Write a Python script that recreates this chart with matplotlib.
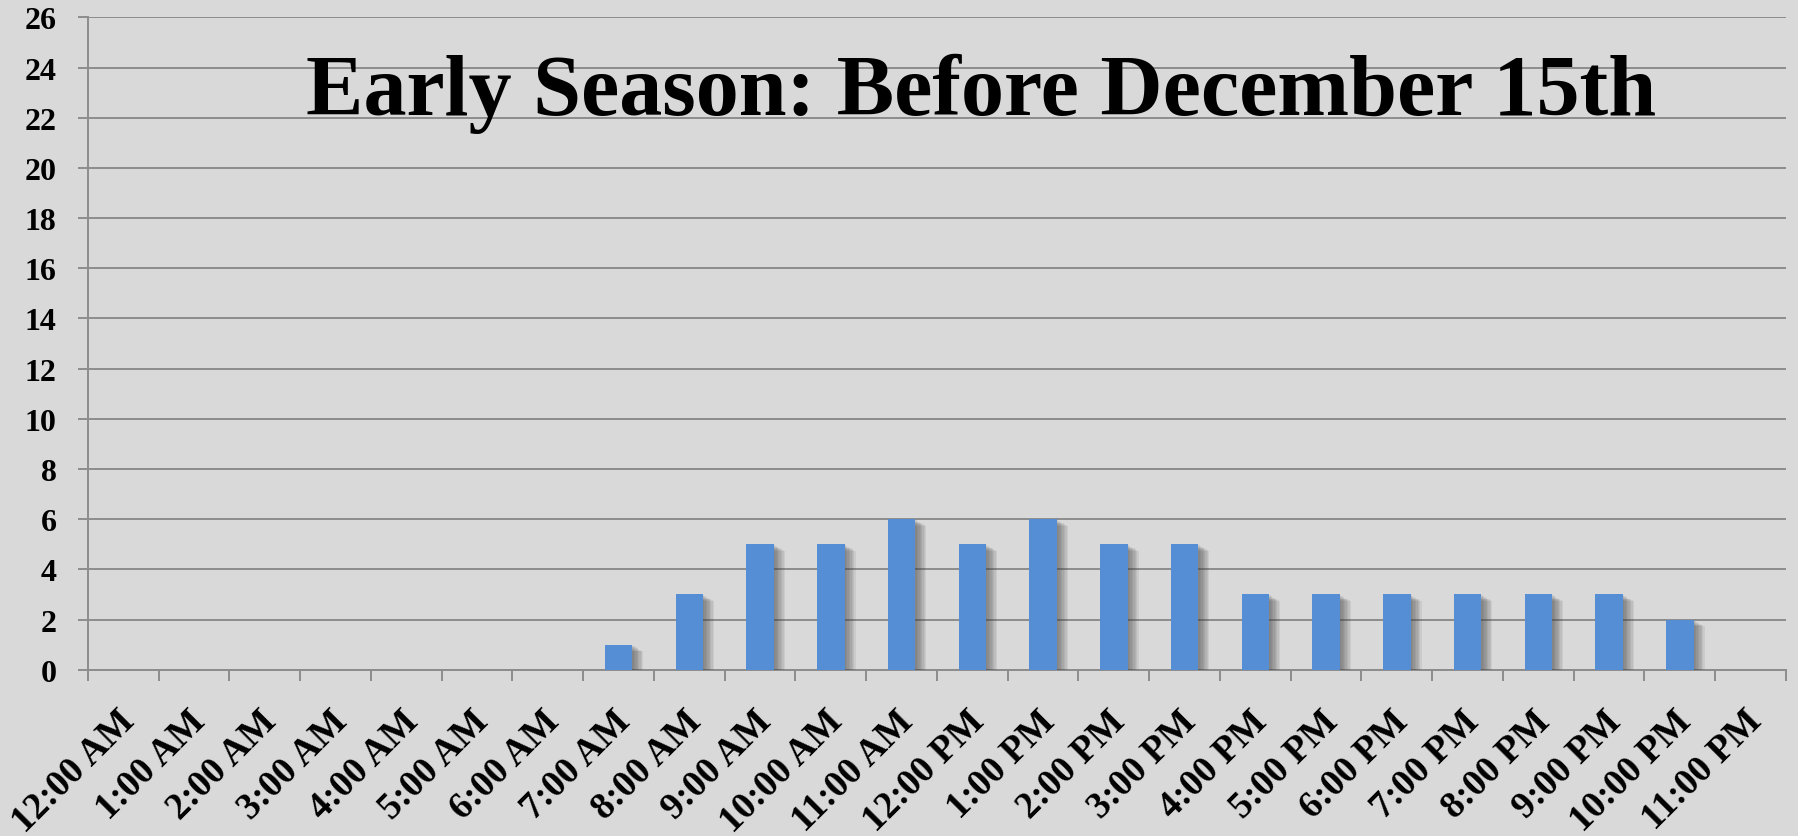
import matplotlib
matplotlib.use("Agg")
import matplotlib.pyplot as plt
import matplotlib.patheffects as pe
import matplotlib.transforms as mtrans
import numpy as np

categories = ["12:00 AM", "1:00 AM", "2:00 AM", "3:00 AM", "4:00 AM", "5:00 AM",
              "6:00 AM", "7:00 AM", "8:00 AM", "9:00 AM", "10:00 AM", "11:00 AM",
              "12:00 PM", "1:00 PM", "2:00 PM", "3:00 PM", "4:00 PM", "5:00 PM",
              "6:00 PM", "7:00 PM", "8:00 PM", "9:00 PM", "10:00 PM", "11:00 PM"]
counts = [0, 0, 0, 0, 0, 0, 0, 1, 3, 5, 5, 6, 5, 6, 5, 5, 3, 3, 3, 3, 3, 3, 2, 0]
yticks = list(range(0, 27, 2))
title = "Early Season: Before December 15th"

bg = "#D9D9D9"
grid = "#8C8C8C"
bar_color = "#558ED5"
font = "Liberation Serif"

fig = plt.figure(figsize=(17.98, 8.37), dpi=100, facecolor=bg)
ax = fig.add_axes([0.0489, 0.1986, 0.9444, 0.7795], facecolor=bg)

x = np.arange(len(categories))
shadow = [pe.SimplePatchShadow(offset=(d, -d * 0.6), shadow_rgbFace="#404040", alpha=0.09)
          for d in (1, 2, 3, 4, 5, 6, 7, 8)]
ax.bar(x, counts, width=0.39, color=bar_color, zorder=3,
       path_effects=shadow + [pe.Normal()])

ax.set_xlim(-0.5, len(categories) - 0.5)
ax.set_ylim(0, 26)
ax.set_yticks(yticks)
ax.set_yticklabels([str(v) for v in yticks], fontfamily=font, fontweight="bold", fontsize=23)
ax.yaxis.grid(True, color=grid, linewidth=1.4, zorder=0)
ax.set_axisbelow(True)
ax.tick_params(axis="y", length=7.5, width=1.4, color=grid, pad=15)

ax.set_xticks(x)
ax.set_xticklabels(categories, fontfamily=font, fontweight="bold", fontsize=27,
                   rotation=45, ha="right", va="top", rotation_mode="anchor")
ax.tick_params(axis="x", which="major", length=0, pad=24)
ax.set_xticks(np.arange(-0.5, len(categories)), minor=True)
ax.tick_params(axis="x", which="minor", length=8, width=1.4, color=grid)
offset = mtrans.ScaledTranslation(-6 / 100, 0, fig.dpi_scale_trans)
for lab in ax.get_xticklabels():
    lab.set_transform(lab.get_transform() + offset)

for s in ("top", "right"):
    ax.spines[s].set_visible(False)
for s in ("left", "bottom"):
    ax.spines[s].set_color(grid)
    ax.spines[s].set_linewidth(1.4)

fig.text(0.5456, 0.8626, title, fontfamily=font, fontweight="bold", fontsize=62,
         ha="center", va="baseline", color="black")

fig.savefig("out.png", dpi=100, facecolor=bg)
